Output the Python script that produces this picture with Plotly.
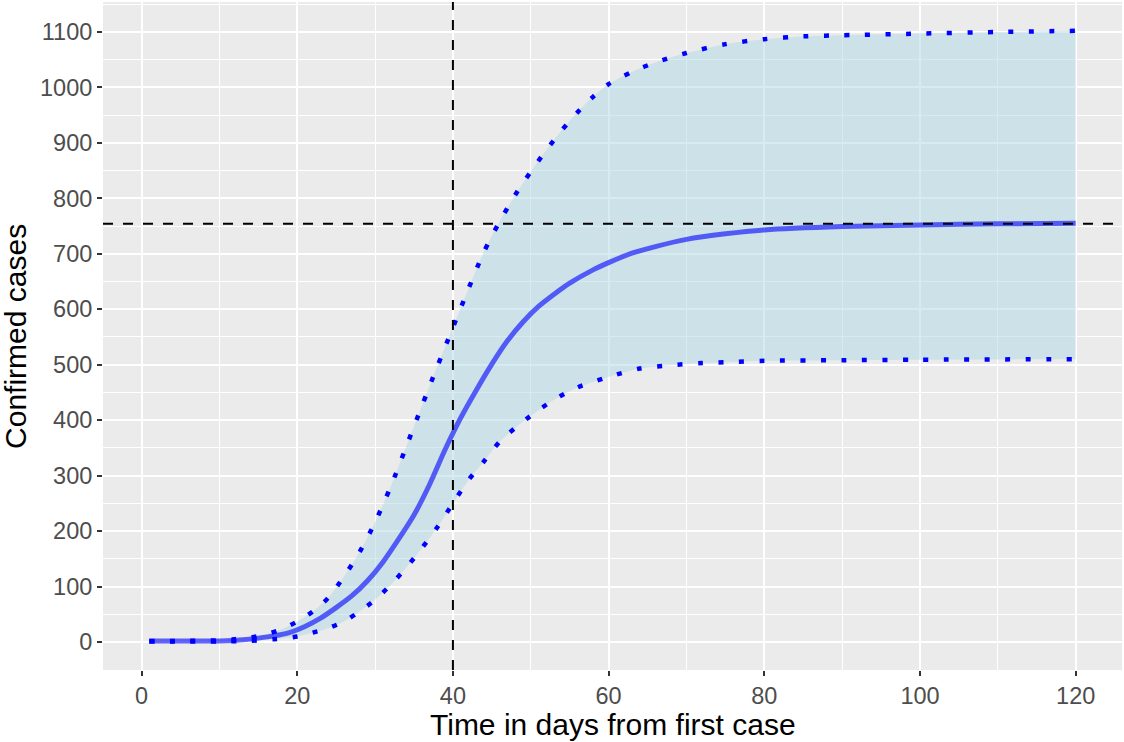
import plotly.graph_objects as go

# ---- data ----
days_mid = [1, 5, 10, 13, 15, 17, 19, 21, 23, 25, 27, 29, 31, 33, 35, 37, 39, 41, 43, 45,
            47, 49, 51, 53, 55, 58, 60, 63, 66, 70, 75, 80, 90, 100, 110, 120]
cases_mid = [2, 2, 2, 4, 7, 11, 17, 28, 43, 62, 83, 110, 144, 185, 229, 284, 347, 404, 454, 501,
             543, 577, 605, 627, 647, 671, 684, 701, 713, 726, 736, 743, 749, 752, 754, 755]

days_upper = [1, 5, 10, 12, 14, 16, 18, 20, 22, 24, 26, 28, 30, 32, 34, 36, 38, 40, 42, 44,
              46, 48, 50, 52, 54, 56, 58, 60, 63, 66, 70, 75, 80, 85, 90, 100, 110, 120]
cases_upper = [2, 2, 3, 5, 8, 14, 23, 37, 55, 80, 118, 162, 216, 280, 352, 425, 497, 567, 637, 704,
               758, 806, 848, 887, 923, 955, 983, 1006, 1028, 1045, 1062, 1078, 1087, 1092, 1094, 1097, 1100, 1102]

days_lower = [1, 5, 10, 14, 17, 20, 22, 24, 26, 28, 30, 32, 34, 36, 38, 40, 42, 44, 46, 48,
              50, 53, 56, 60, 64, 68, 72, 76, 80, 90, 100, 120]
cases_lower = [1, 1, 1, 2, 5, 10, 17, 25, 37, 55, 76, 103, 134, 169, 207, 250, 292, 326, 361, 386,
               408, 437, 459, 478, 493, 499, 503, 505, 507, 508, 509, 510]

peak_day = 40
final_size = 754

x_ticks = [0, 20, 40, 60, 80, 100, 120]
y_ticks = [0, 100, 200, 300, 400, 500, 600, 700, 800, 900, 1000, 1100]

FONT = "Liberation Sans, Arial, sans-serif"

fig = go.Figure()

# ribbon
fig.add_trace(go.Scatter(x=days_upper, y=cases_upper, mode="lines",
                         line=dict(width=0, shape="spline", smoothing=0.8),
                         hoverinfo="skip", showlegend=False))
fig.add_trace(go.Scatter(x=days_lower, y=cases_lower, mode="lines",
                         line=dict(width=0, shape="spline", smoothing=0.8),
                         fill="tonexty", fillcolor="rgba(173,216,230,0.5)",
                         hoverinfo="skip", showlegend=False))
# dotted bounds
for dx, dy in [(days_upper, cases_upper), (days_lower, cases_lower)]:
    fig.add_trace(go.Scatter(x=dx, y=dy, mode="lines",
                             line=dict(color="#0000FF", width=4.5, dash="5px,15.5px",
                                       shape="spline", smoothing=0.8),
                             showlegend=False))
# central estimate
fig.add_trace(go.Scatter(x=days_mid, y=cases_mid, mode="lines",
                         line=dict(color="rgba(0,0,255,0.6)", width=5,
                                   shape="spline", smoothing=0.8),
                         showlegend=False))

fig.add_vline(x=peak_day, line=dict(color="black", width=2, dash="10px,10px"), layer="above")
fig.add_hline(y=final_size, line=dict(color="black", width=2, dash="10px,10px"), layer="above")

fig.update_layout(
    width=1124, height=742,
    margin=dict(l=103, r=2, t=2, b=72),
    paper_bgcolor="white",
    plot_bgcolor="#EBEBEB",
    font=dict(family=FONT),
    showlegend=False,
    xaxis=dict(range=[-4.95, 125.95], tickvals=x_ticks, ticktext=[str(v) for v in x_ticks],
               showgrid=True, gridcolor="white", gridwidth=1.6, zeroline=False,
               ticks="outside", ticklen=5, tickwidth=1.6, tickcolor="#333333",
               tickfont=dict(size=23.5, color="#4D4D4D", family=FONT),
               minor=dict(tick0=10, dtick=20, showgrid=True, gridcolor="white", gridwidth=0.8),
               showline=False),
    yaxis=dict(range=[-50.5, 1154], tickvals=y_ticks, ticktext=[str(v) for v in y_ticks],
               showgrid=True, gridcolor="white", gridwidth=1.6, zeroline=False,
               ticks="outside", ticklen=5, tickwidth=1.6, tickcolor="#333333",
               tickfont=dict(size=23.5, color="#4D4D4D", family=FONT),
               minor=dict(tick0=50, dtick=100, showgrid=True, gridcolor="white", gridwidth=0.8),
               showline=False),
    annotations=[
        dict(text="Time in days from first case", xref="paper", yref="paper",
             x=0.5, y=-0.0823, xanchor="center", yanchor="middle", showarrow=False,
             font=dict(size=30, color="black", family=FONT)),
        dict(text="Confirmed cases", xref="paper", yref="paper",
             x=-0.0864, y=0.5, xanchor="center", yanchor="middle", showarrow=False,
             textangle=-90, font=dict(size=30, color="black", family=FONT)),
    ],
)

fig.write_html("out.html", config={"displayModeBar": False},
               post_script="document.body.style.margin='0';document.body.style.overflow='hidden';")
